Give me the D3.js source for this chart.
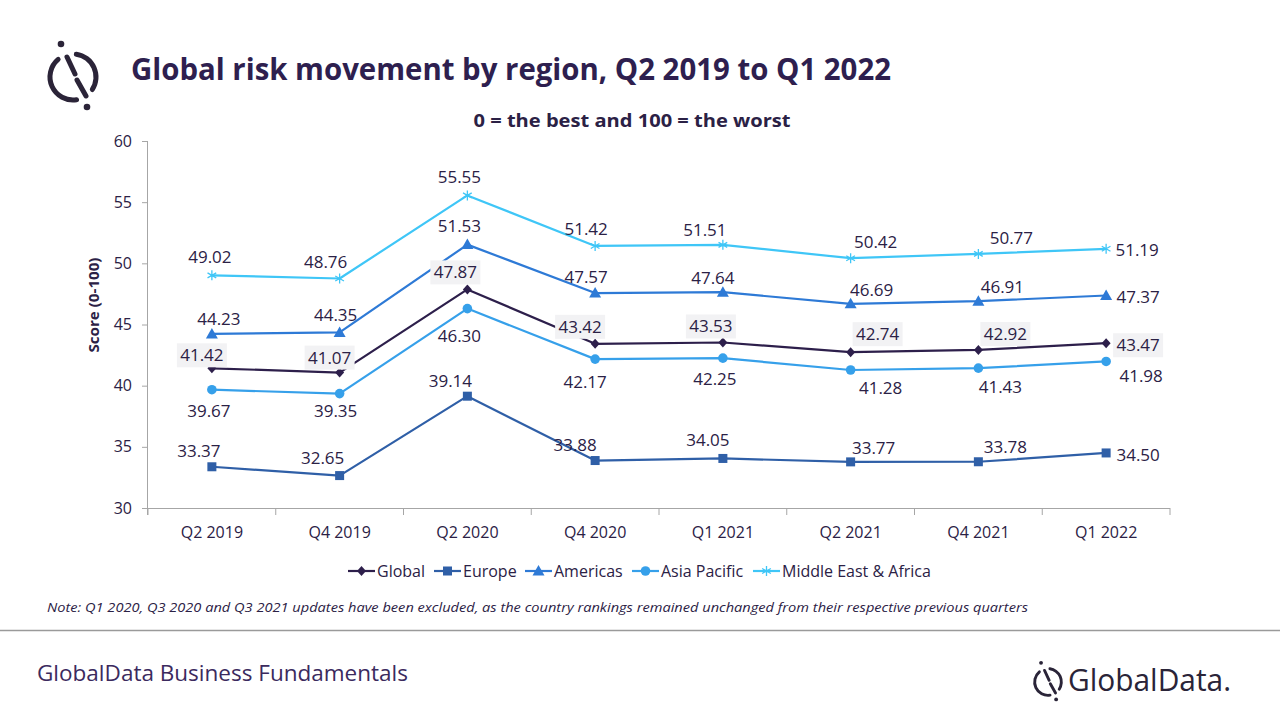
<!DOCTYPE html>
<html>
<head>
<meta charset="utf-8">
<script src="https://cdn.jsdelivr.net/npm/d3@7"></script>
<style>
  html, body { margin: 0; padding: 0; background: #ffffff; }
  svg { display: block; }
  text { font-family: "Open Sans", "Noto Sans", sans-serif; }
</style>
</head>
<body>
<svg id="chart" width="1280" height="720"></svg>
<script>
// ---------- DATA ----------
const categories = ["Q2 2019", "Q4 2019", "Q2 2020", "Q4 2020", "Q1 2021", "Q2 2021", "Q4 2021", "Q1 2022"];
const seriesNames = ["Global", "Europe", "Americas", "Asia Pacific", "Middle East & Africa"];
const globalValues      = [41.42, 41.07, 47.87, 43.42, 43.53, 42.74, 42.92, 43.47];
const europeValues      = [33.37, 32.65, 39.14, 33.88, 34.05, 33.77, 33.78, 34.50];
const americasValues    = [44.23, 44.35, 51.53, 47.57, 47.64, 46.69, 46.91, 47.37];
const asiaPacificValues = [39.67, 39.35, 46.30, 42.17, 42.25, 41.28, 41.43, 41.98];
const meaValues         = [49.02, 48.76, 55.55, 51.42, 51.51, 50.42, 50.77, 51.19];
const yTicks = [30, 35, 40, 45, 50, 55, 60];

// ---------- LAYOUT / STYLE ----------
const colors = ["#2d1f4b", "#2f5fa7", "#2e7ad6", "#36a0ea", "#3fc6f7"];
const markers = ["diamond", "square", "triangle", "circle", "asterisk"];
// label centre offsets (px) relative to each point
const labelOffsets = [
  [[-10,-13],[-10,-15],[-12,-17],[-15,-17],[-12,-16],[27,-18],[27,-16],[32,2]],
  [[-13,-16],[-17,-18],[-17,-15],[-20,-15],[-15,-18],[23,-14],[27,-15],[32,2]],
  [[7,-15],[-4,-17],[-8,-19],[-9,-16],[-10,-14],[21,-14],[24,-14],[32,2]],
  [[-3,21],[-4,17],[-8,27],[-10,23],[-8,21],[30,18],[22,19],[35,15]],
  [[-2,-18],[-14,-16],[-8,-18],[-9,-17],[-18,-15],[25,-16],[33,-16],[31,1]]
];
const seriesValues = [globalValues, europeValues, americasValues, asiaPacificValues, meaValues];
const textColor = "#2b2145";
const axisColor = "#a6a6a6";

const svg = d3.select("#chart");

const plot = { left: 148, right: 1170, top: 141, bottom: 508 };
const x = d3.scaleBand().domain(categories).range([plot.left, plot.right]);
const y = d3.scaleLinear().domain([30, 60]).range([plot.bottom, plot.top]);
const cx = c => x(c) + x.bandwidth() / 2;

// ---------- TITLES ----------
svg.append("text").attr("x", 131).attr("y", 80)
  .attr("font-size", 30).attr("font-weight", 700).attr("fill", "#2e1f4f")
  .attr("textLength", 760).attr("lengthAdjust", "spacingAndGlyphs")
  .text("Global risk movement by region, Q2 2019 to Q1 2022");

svg.append("text").attr("x", 632).attr("y", 127).attr("text-anchor", "middle")
  .attr("font-size", 17).attr("font-weight", 700).attr("fill", textColor)
  .attr("textLength", 317).attr("lengthAdjust", "spacingAndGlyphs")
  .text("0 = the best and 100 = the worst");

// ---------- LOGO ----------
function drawLogo(g, ox, oy, s, col) {
  const grp = g.append("g").attr("transform", `translate(${ox},${oy}) scale(${s})`);
  const arc = d3.arc().innerRadius(20.5).outerRadius(25.5).cornerRadius(2.5);
  const deg = Math.PI / 180;
  grp.append("path").attr("d", arc({ startAngle: 165 * deg, endAngle: 326 * deg })).attr("fill", col);
  grp.append("path").attr("d", arc({ startAngle: 2 * deg, endAngle: 129 * deg })).attr("fill", col);
  grp.append("line").attr("x1", -6).attr("y1", -20).attr("x2", 2).attr("y2", -3)
    .attr("stroke", col).attr("stroke-width", 5).attr("stroke-linecap", "round");
  grp.append("line").attr("x1", 4).attr("y1", 3).attr("x2", 13).attr("y2", 19)
    .attr("stroke", col).attr("stroke-width", 5).attr("stroke-linecap", "round");
  grp.append("circle").attr("cx", -12).attr("cy", -33).attr("r", 3.3).attr("fill", col);
  grp.append("circle").attr("cx", 14).attr("cy", 30).attr("r", 3.3).attr("fill", col);
}
drawLogo(svg, 73, 77, 1, "#2b2438");

// ---------- AXES ----------
const gy = svg.append("g").attr("transform", `translate(${plot.left},0)`)
  .call(d3.axisLeft(y).tickValues(yTicks).tickSize(6).tickPadding(10).tickFormat(d3.format("d")));
gy.select(".domain").attr("stroke", axisColor).attr("d", `M-0.5,${plot.top}V${plot.bottom + 7}`);
gy.selectAll(".tick line").attr("stroke", axisColor);
gy.selectAll(".tick text").attr("font-size", 16).attr("fill", textColor)
  .attr("font-family", '"Open Sans", sans-serif');

const gx = svg.append("g").attr("transform", `translate(0,${plot.bottom})`);
gx.append("line").attr("x1", plot.left).attr("x2", plot.right).attr("y1", 0.5).attr("y2", 0.5)
  .attr("stroke", axisColor);
const boundaries = categories.map(c => x(c)).concat([plot.right]);
gx.selectAll("line.tk").data(boundaries).join("line").attr("class", "tk")
  .attr("x1", d => d).attr("x2", d => d).attr("y1", 0).attr("y2", 7).attr("stroke", axisColor);
gx.selectAll("text").data(categories).join("text")
  .attr("x", d => cx(d)).attr("y", 30).attr("text-anchor", "middle")
  .attr("font-size", 16).attr("fill", textColor).text(d => d);

svg.append("text").attr("transform", "translate(99,305) rotate(-90)")
  .attr("text-anchor", "middle").attr("font-size", 15).attr("font-weight", 700).attr("fill", textColor)
  .attr("textLength", 95).attr("lengthAdjust", "spacingAndGlyphs")
  .text("Score (0-100)");

// ---------- MARKERS ----------
function drawMarker(g, type, px, py, col) {
  if (type === "diamond") {
    g.append("path").attr("d", `M${px},${py - 5}L${px + 4.5},${py}L${px},${py + 5}L${px - 4.5},${py}Z`).attr("fill", col);
  } else if (type === "square") {
    g.append("rect").attr("x", px - 4.5).attr("y", py - 4.5).attr("width", 9).attr("height", 9).attr("fill", col);
  } else if (type === "triangle") {
    g.append("path").attr("d", `M${px},${py - 6}L${px + 6},${py + 4.5}L${px - 6},${py + 4.5}Z`).attr("fill", col);
  } else if (type === "circle") {
    g.append("circle").attr("cx", px).attr("cy", py).attr("r", 4.8).attr("fill", col);
  } else if (type === "asterisk") {
    const r = 5;
    g.append("path")
      .attr("d", `M${px},${py - r}V${py + r}M${px - r * 0.87},${py - r * 0.5}L${px + r * 0.87},${py + r * 0.5}M${px - r * 0.87},${py + r * 0.5}L${px + r * 0.87},${py - r * 0.5}`)
      .attr("stroke", col).attr("stroke-width", 1.3).attr("fill", "none");
  }
}

// ---------- SERIES ----------
const line = d3.line().x((d, i) => cx(categories[i])).y(d => y(d));
const seriesG = svg.append("g");
seriesValues.forEach((vals, si) => {
  const g = seriesG.append("g");
  g.append("path").datum(vals).attr("d", line).attr("fill", "none")
    .attr("stroke", colors[si]).attr("stroke-width", 2.2).attr("stroke-linejoin", "round");
  vals.forEach((v, i) => drawMarker(g, markers[si], cx(categories[i]), y(v), colors[si]));
});

// ---------- DATA LABELS ----------
const labelG = svg.append("g");
seriesValues.forEach((vals, si) => {
  vals.forEach((v, i) => {
    const lx = cx(categories[i]) + labelOffsets[si][i][0];
    const ly = y(v) + labelOffsets[si][i][1];
    if (si === 0) {
      labelG.append("rect").attr("x", lx - 25).attr("y", ly - 12).attr("width", 50).attr("height", 24)
        .attr("fill", "#f2f2f4");
    }
    labelG.append("text").attr("x", lx).attr("y", ly).attr("text-anchor", "middle")
      .attr("dy", "0.35em").attr("font-size", 17).attr("fill", textColor)
      .text(d3.format(".2f")(v));
  });
});

// ---------- LEGEND ----------
const legendX = [348, 434, 525, 632, 753];
const legend = svg.append("g");
seriesNames.forEach((name, si) => {
  const lx = legendX[si];
  legend.append("line").attr("x1", lx).attr("x2", lx + 27).attr("y1", 571).attr("y2", 571)
    .attr("stroke", colors[si]).attr("stroke-width", 2.2);
  drawMarker(legend, markers[si], lx + 13.5, 571, colors[si]);
  legend.append("text").attr("x", lx + 29).attr("y", 571).attr("dy", "0.35em")
    .attr("font-size", 16).attr("fill", textColor).text(name);
});

// ---------- NOTE & FOOTER ----------
svg.append("text").attr("x", 47).attr("y", 612).attr("font-size", 13).attr("font-style", "italic")
  .attr("fill", textColor).attr("textLength", 981).attr("lengthAdjust", "spacingAndGlyphs")
  .text("Note: Q1 2020, Q3 2020 and Q3 2021 updates have been excluded, as the country rankings remained unchanged from their respective previous quarters");

svg.append("line").attr("x1", 0).attr("x2", 1280).attr("y1", 630.5).attr("y2", 630.5)
  .attr("stroke", "#9a9a9a").attr("stroke-width", 1.5);

svg.append("text").attr("x", 37).attr("y", 681).attr("font-size", 21).attr("fill", "#3b2a5e")
  .attr("textLength", 371).attr("lengthAdjust", "spacingAndGlyphs")
  .text("GlobalData Business Fundamentals");

drawLogo(svg, 1048, 682, 0.58, "#2a2438");
svg.append("text").attr("x", 1068).attr("y", 691).attr("font-size", 31).attr("font-weight", 500)
  .attr("font-family", "Lato, 'Open Sans', sans-serif").attr("fill", "#2a2438")
  .attr("textLength", 163).attr("lengthAdjust", "spacingAndGlyphs")
  .text("GlobalData.");
</script>
</body>
</html>
